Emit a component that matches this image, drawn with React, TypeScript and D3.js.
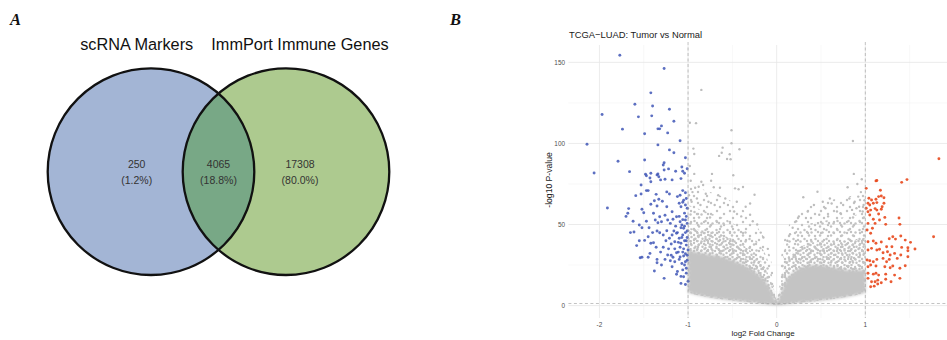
import React from 'react';
import * as d3 from 'd3';

// panel A: venn
const vennSets = ['scRNA Markers', 'ImmPort Immune Genes'];
const vennCounts = [250, 4065, 17308];
const vennPercents = ['1.2%', '18.8%', '80.0%'];

// panel B: volcano
const volcanoTitle = 'TCGA\u2212LUAD: Tumor vs Normal';
const xTicks = [-2, -1, 0, 1];
const xMinor = [-1.5, -0.5, 0.5, 1.5];
const yTicks = [0, 50, 100, 150];
const yMinor = [25, 75, 125];
const fcCutoff = 1;
const pCutoff = 1.3; // -log10(0.05)

// the non-significant gene cloud, read as bands: x, bottom, then tops from densest to sparsest
const cloudX = [-1.0, -0.9, -0.8, -0.7, -0.6, -0.5, -0.4, -0.3, -0.2, -0.1, -0.05, 0, 0.05, 0.1, 0.2, 0.3, 0.4, 0.5, 0.6, 0.7, 0.8, 0.9, 1.0];
const cloudLow = [8, 6.5, 5.5, 4.5, 3.8, 3.2, 2.6, 2, 1.4, 0.8, 0.5, 0.3, 0.5, 0.8, 1.4, 2, 2.6, 3.2, 3.8, 4.5, 5.5, 6.5, 8];
const cloudCore = [34, 33, 32, 31, 30, 28, 26, 23, 19, 13, 8, 2.5, 8, 15, 21, 24, 25, 25, 24, 23, 22, 22, 22];
const cloudInner = [48, 47, 46, 45, 43, 41, 38, 34, 29, 20, 13, 3.5, 15, 27, 34, 37, 39, 39, 39, 39, 40, 41, 42];
const cloudHalo = [62, 60, 58, 56, 54, 51, 48, 44, 38, 28, 18, 4, 22, 37, 45, 49, 51, 52, 53, 54, 55, 56, 58];
const cloudOuter = [75, 73, 71, 69, 67, 64, 60, 55, 47, 36, 24, 5, 30, 44, 54, 59, 62, 63, 65, 66, 67, 69, 72];

const grayGenes: [number, number][] = [
  [-0.85, 133], [-0.98, 112.8], [-0.91, 112.5], [-0.51, 108.1], [0.86, 101.5], [-0.51, 100.1], [-0.94, 96.8], [-0.93, 93.5],
  [-0.61, 97.4], [-0.62, 94.3], [-0.65, 92.3], [-0.53, 93.3], [-0.56, 90.4], [-0.52, 90.2], [-0.42, 96.4], [-0.98, 86.1],
  [-0.49, 80.4], [-0.73, 81.2], [-0.93, 81.2], [0.87, 81.2], [-0.97, 77], [-0.85, 76.4], [-0.74, 77], [-0.83, 74.4],
  [0.91, 75], [0.96, 77.9], [0.8, 73], [0.46, 70.2], [-0.47, 72.3], [-0.43, 71.7], [-0.38, 73.1], [-0.92, 72.7],
  [-0.88, 73.3], [-0.71, 73], [-0.64, 72.7], [-0.25, 68.4], [0.3, 66.8], [0.92, 67.2], [-0.95, 70], [-0.8, 69],
  [-0.66, 68], [-0.58, 66], [-0.45, 64], [-0.35, 61], [-0.3, 56], [-0.22, 50], [-0.15, 42], [-0.1, 35],
  [0.12, 40], [0.18, 48], [0.25, 55], [0.35, 58], [0.42, 62], [0.55, 60], [0.62, 63], [0.68, 58],
  [0.75, 62], [0.82, 66], [0.88, 64], [0.95, 70], [0.98, 62], [-0.99, 68], [-0.9, 66], [-0.77, 64],
  [-0.7, 62], [-0.55, 62], [-0.48, 58], [-0.4, 55], [-0.27, 52], [0.15, 44], [0.22, 52], [0.33, 54],
  [0.48, 56], [0.58, 55], [0.72, 57], [0.85, 59], [0.93, 61], [0.99, 65], [-0.3, 63], [-0.18, 45],
  [0.6, 66], [0.52, 64], [-0.96, 64], [-0.86, 62], [0.97, 58], [0.9, 60],
];

const downGenes: [number, number][] = [
  [-1.77, 154.4], [-1.27, 146.2], [-1.42, 131.2], [-1.6, 124.2], [-1.4, 123.1], [-1.21, 121.1], [-1.97, 117.8], [-1.56, 116.4],
  [-1.41, 117], [-1.16, 113.7], [-1.3, 110.8], [-1.32, 109], [-1.34, 109], [-1.74, 108.8], [-1.49, 106], [-1.23, 106.5],
  [-1.09, 101.7], [-2.14, 99.5], [-1.34, 99.1], [-1.21, 96], [-1.16, 94.3], [-1.03, 91.2], [-1.79, 89], [-1.49, 89.8],
  [-1.27, 88.1], [-1.28, 86.7], [-1.07, 85.5], [-1.01, 84.4], [-2.06, 81.8], [-1.66, 82.6], [-1.42, 81.6], [-1.34, 81.2],
  [-1.27, 83.6], [-1.22, 84.3], [-1.14, 82.8], [-1.06, 82.8], [-1.48, 81], [-1.47, 80.1], [-1.43, 78.7], [-1.35, 80.6],
  [-1.33, 79.5], [-1.31, 77.5], [-1.42, 76.4], [-1.26, 77.9], [-1.18, 77.5], [-1.08, 78.3], [-1.04, 81.6], [-1.53, 74.4],
  [-1.47, 70.9], [-1.45, 70.9], [-1.59, 67.8], [-1.53, 68.8], [-1.36, 68.6], [-1.24, 70.1], [-1.21, 68.8], [-1.33, 65.6],
  [-1.29, 64.3], [-1.42, 62.5], [-1.38, 64.7], [-1.12, 67.2], [-1.09, 68], [-1.06, 70.9], [-1.03, 69.6], [-1.1, 63.1],
  [-1.08, 61], [-1.06, 63.7], [-1.91, 60.2], [-1.67, 59.8], [-1.68, 56.9], [-1.52, 59.4], [-1.5, 57.3], [-1.35, 61.4],
  [-1.24, 61], [-1.18, 57.9], [-1.39, 56.9], [-1.32, 54.8], [-1.26, 55.7], [-1.23, 52.8], [-1.37, 52.8], [-1.34, 51.1],
  [-1.3, 51.7], [-1.2, 50.7], [-1.17, 53.2], [-1.13, 54.8], [-1.09, 51.7], [-1.07, 49.7], [-1.05, 47.7], [-1.03, 52.8],
  [-1.01, 50.7], [-1.61, 45.4], [-1.55, 49.7], [-1.52, 48], [-1.49, 40.2], [-1.45, 42.5], [-1.42, 38.4], [-1.39, 38.8],
  [-1.35, 46], [-1.32, 44.9], [-1.28, 43.5], [-1.24, 46.2], [-1.21, 41.5], [-1.18, 43.5], [-1.15, 39.4], [-1.13, 44.6],
  [-1.1, 41.5], [-1.08, 38.4], [-1.06, 43.5], [-1.04, 40], [-1.02, 37.3], [-1.54, 29.5], [-1.52, 29.8], [-1.45, 29.8],
  [-1.43, 32.2], [-1.35, 28.5], [-1.35, 26.4], [-1.26, 28.5], [-1.23, 31.2], [-1.2, 27.7], [-1.17, 29.8], [-1.15, 27],
  [-1.13, 32.6], [-1.1, 28.5], [-1.07, 26], [-1.05, 30.6], [-1.02, 23], [-1, 34.3], [-1.38, 21.3], [-1.27, 16.8],
  [-1.13, 19.3], [-1.05, 17.8], [-1.08, 13.7], [-1.02, 55], [-1.04, 57], [-1.01, 60], [-1.03, 62], [-1.05, 65],
  [-1.02, 66], [-1.06, 53], [-1.08, 48], [-1.03, 45], [-1.01, 42], [-1.05, 35], [-1.03, 32], [-1.01, 28],
  [-1.04, 25], [-1.02, 20], [-1.06, 22], [-1.09, 30], [-1.11, 33], [-1.12, 45], [-1.14, 49], [-1.1, 55],
  [-1.16, 46], [-1.19, 38], [-1.22, 35], [-1.25, 40], [-1.28, 36], [-1.31, 33], [-1.36, 36], [-1.4, 45],
  [-1.44, 48], [-1.47, 52], [-1.55, 40], [-1.58, 37], [-1.62, 52], [-1.65, 45], [-1.7, 55], [-1.3, 25],
  [-1.18, 24], [-1.12, 21], [-1.08, 18], [-1.0, 15], [-1.03, 13], [-1.01, 46], [-1.04, 49], [-1.02, 40],
  [-1.07, 42], [-1.09, 36], [-1.01, 31], [-1.03, 27], [-1.06, 33], [-1.11, 39], [-1.15, 35], [-1.19, 31],
];

const upGenes: [number, number][] = [
  [1.83, 90.6], [1.12, 76.9], [1.13, 77.1], [1.41, 76], [1.47, 77.7], [1.01, 72.3], [1.17, 71.1], [1.04, 66.2],
  [1.07, 65.1], [1.12, 65.6], [1.15, 67.2], [1.18, 67.6], [1.21, 66.5], [1.03, 63.1], [1.05, 62], [1.09, 63.1],
  [1.13, 63.5], [1.21, 63.1], [1.01, 60], [1.03, 57.9], [1.06, 58.9], [1.11, 59.8], [1.13, 58.9], [1.18, 59.4],
  [1.19, 61], [1.05, 55.9], [1.09, 53.2], [1.15, 56.5], [1.16, 52.8], [1.22, 54.4], [1.38, 54], [1.39, 50.1],
  [1.03, 50.7], [1.08, 47.7], [1.11, 50.7], [1.23, 50.1], [1.02, 46.6], [1.06, 44.6], [1.77, 42.5], [1.27, 41.2],
  [1.31, 42.5], [1.34, 41], [1.4, 42.9], [1.45, 40.4], [1.03, 39.4], [1.09, 39.8], [1.12, 38.4], [1.18, 39.2],
  [1.24, 36.3], [1.3, 36.3], [1.41, 35.9], [1.48, 35.7], [1.51, 39], [1.56, 34.9], [1.03, 34.3], [1.07, 35.3],
  [1.13, 34.3], [1.16, 34.7], [1.2, 32.6], [1.25, 33.2], [1.28, 31.2], [1.33, 32.2], [1.36, 29.1], [1.4, 31.2],
  [1.48, 30.1], [1.48, 33.8], [1.02, 28.1], [1.05, 27.7], [1.09, 27], [1.13, 28.5], [1.2, 29.1], [1.24, 27],
  [1.27, 28.5], [1.03, 24], [1.06, 25], [1.12, 24.4], [1.22, 24], [1.28, 23.3], [1.31, 24.4], [1.39, 23],
  [1.45, 24.6], [1.03, 19.9], [1.09, 19.4], [1.12, 19.9], [1.15, 18.8], [1.23, 19.4], [1.33, 18.8], [1.39, 16.8],
  [1.07, 14.7], [1.11, 14.7], [1.14, 15.7], [1.23, 16.2], [1.29, 14.7], [1.06, 11.6], [1.1, 12], [1.14, 13.3],
  [1.18, 14.1], [1.03, 16.8],
];

const sans = '"Liberation Sans", Arial, Helvetica, sans-serif';

const App: React.FC = () => {
  const svgRef = React.useRef<SVGSVGElement>(null);

  React.useEffect(() => {
    if (!svgRef.current) return;
    const svg = d3.select(svgRef.current);
    svg.selectAll('*').remove();
    const defs = svg.append('defs');

    // ---------- panel letters
    svg.selectAll('text.panel')
      .data(['A', 'B'])
      .enter()
      .append('text')
      .attr('x', (d, i) => (i === 0 ? 10 : 450))
      .attr('y', 25)
      .attr('font-family', '"Liberation Serif", "Times New Roman", serif')
      .attr('font-style', 'italic')
      .attr('font-weight', 'bold')
      .attr('font-size', 16.5)
      .attr('fill', '#111')
      .text(d => d);

    // ---------- venn
    const r = 103.3;
    const cy = 171.7;
    const cxs = [151, 286];
    const fills = ['#a3b5d5', '#adca8f'];

    defs.append('clipPath').attr('id', 'leftSet')
      .append('circle').attr('cx', cxs[0]).attr('cy', cy).attr('r', r);

    const venn = svg.append('g');
    venn.selectAll('circle.set')
      .data(cxs)
      .enter()
      .append('circle')
      .attr('cx', d => d)
      .attr('cy', cy)
      .attr('r', r)
      .attr('fill', (d, i) => fills[i]);

    venn.append('circle')
      .attr('cx', cxs[1]).attr('cy', cy).attr('r', r)
      .attr('clip-path', 'url(#leftSet)')
      .attr('fill', '#78a886');

    venn.selectAll('circle.edge')
      .data(cxs)
      .enter()
      .append('circle')
      .attr('cx', d => d)
      .attr('cy', cy)
      .attr('r', r)
      .attr('fill', 'none')
      .attr('stroke', '#111')
      .attr('stroke-width', 2.3);

    const titleX = [136.7, 300];
    venn.selectAll('text.setname')
      .data(vennSets)
      .enter()
      .append('text')
      .attr('x', (d, i) => titleX[i])
      .attr('y', 50)
      .attr('text-anchor', 'middle')
      .attr('font-family', sans)
      .attr('font-size', 16.3)
      .attr('fill', '#111')
      .text(d => d);

    const regionX = [136.7, 218.5, 300];
    venn.selectAll('text.count')
      .data(vennCounts)
      .enter()
      .append('text')
      .attr('x', (d, i) => regionX[i])
      .attr('y', 168)
      .attr('text-anchor', 'middle')
      .attr('font-family', sans)
      .attr('font-size', 10.5)
      .attr('fill', '#333')
      .text(d => String(d));

    venn.selectAll('text.pct')
      .data(vennPercents)
      .enter()
      .append('text')
      .attr('x', (d, i) => regionX[i])
      .attr('y', 184)
      .attr('text-anchor', 'middle')
      .attr('font-family', sans)
      .attr('font-size', 10.5)
      .attr('fill', '#333')
      .text(d => `(${d})`);

    // ---------- volcano
    const x = d3.scaleLinear().domain([-2.35, 2.05]).range([568.4, 958.4]);
    const y = d3.scaleLinear().domain([-7.65, 160.7]).range([318, 45]);
    const [px0, px1] = [568.4, 947];
    const [py0, py1] = [45, 318];

    const plot = svg.append('g');

    // grid
    plot.selectAll('line.hminor').data(yMinor).enter().append('line')
      .attr('x1', px0).attr('x2', px1).attr('y1', d => y(d)).attr('y2', d => y(d))
      .attr('stroke', '#f0f0f0').attr('stroke-width', 0.5);
    plot.selectAll('line.vminor').data(xMinor).enter().append('line')
      .attr('y1', py0).attr('y2', py1).attr('x1', d => x(d)).attr('x2', d => x(d))
      .attr('stroke', '#f0f0f0').attr('stroke-width', 0.5);
    plot.selectAll('line.hmajor').data(yTicks).enter().append('line')
      .attr('x1', px0).attr('x2', px1).attr('y1', d => y(d)).attr('y2', d => y(d))
      .attr('stroke', '#e6e6e6').attr('stroke-width', 0.8);
    plot.selectAll('line.vmajor').data(xTicks).enter().append('line')
      .attr('y1', py0).attr('y2', py1).attr('x1', d => x(d)).attr('x2', d => x(d))
      .attr('stroke', '#e6e6e6').attr('stroke-width', 0.8);

    // speckle patterns for the crowded grey cloud (stacked, so density rises toward the core)
    const speckle = (id: string, w: number, h: number, dots: number[][]) => {
      const p = defs.append('pattern').attr('id', id)
        .attr('patternUnits', 'userSpaceOnUse').attr('width', w).attr('height', h);
      dots.forEach(([a, b]) =>
        p.append('circle').attr('cx', a).attr('cy', b).attr('r', 1.25).attr('fill', '#c3c3c3'));
    };
    speckle('spA', 13, 11, [[2, 2], [9, 5], [5, 9]]);
    speckle('spB', 11, 9, [[6, 1.5], [1.5, 5], [8.5, 7.5], [4, 7]]);
    speckle('spC', 7, 8, [[1, 3], [4.5, 1], [5.5, 5], [2.5, 6.8]]);

    defs.append('filter').attr('id', 'soft')
      .attr('x', '-5%').attr('y', '-10%').attr('width', '110%').attr('height', '120%')
      .append('feGaussianBlur').attr('stdDeviation', 1.6);

    const cloud = cloudX.map((cx, i) => ({
      x: cx, low: cloudLow[i], core: cloudCore[i], inner: cloudInner[i], halo: cloudHalo[i], outer: cloudOuter[i],
    }));
    const band = (key: 'core' | 'inner' | 'halo' | 'outer') => d3.area<typeof cloud[number]>()
      .x(d => x(d.x))
      .y0(d => y(d.low))
      .y1(d => y(d[key]))
      .curve(d3.curveMonotoneX);

    plot.append('path').datum(cloud).attr('d', band('outer')).attr('fill', 'url(#spA)');
    plot.append('path').datum(cloud).attr('d', band('halo')).attr('fill', 'url(#spB)');
    plot.append('path').datum(cloud).attr('d', band('inner')).attr('fill', 'url(#spC)');
    plot.append('path').datum(cloud).attr('d', band('core')).attr('fill', '#c4c4c4')
      .attr('filter', 'url(#soft)');

    plot.selectAll('circle.ns').data(grayGenes).enter().append('circle')
      .attr('cx', d => x(d[0])).attr('cy', d => y(d[1])).attr('r', 1.2)
      .attr('fill', '#bdbdbd');

    plot.selectAll('circle.down').data(downGenes).enter().append('circle')
      .attr('cx', d => x(d[0])).attr('cy', d => y(d[1])).attr('r', 1.45)
      .attr('fill', '#3f56b6').attr('fill-opacity', 0.85);

    plot.selectAll('circle.up').data(upGenes).enter().append('circle')
      .attr('cx', d => x(d[0])).attr('cy', d => y(d[1])).attr('r', 1.45)
      .attr('fill', '#e8481c').attr('fill-opacity', 0.9);

    // cutoffs
    plot.selectAll('line.vcut').data([-fcCutoff, fcCutoff]).enter().append('line')
      .attr('x1', d => x(d)).attr('x2', d => x(d)).attr('y1', py0 - 3).attr('y2', py1)
      .attr('stroke', '#9a9a9a').attr('stroke-width', 0.6).attr('stroke-dasharray', '3,2.5');
    plot.append('line')
      .attr('x1', px0).attr('x2', px1).attr('y1', y(pCutoff)).attr('y2', y(pCutoff))
      .attr('stroke', '#9a9a9a').attr('stroke-width', 0.6).attr('stroke-dasharray', '3,2.5');

    // tick labels
    plot.selectAll('text.ytick').data(yTicks).enter().append('text')
      .attr('x', 565).attr('y', d => y(d)).attr('dy', '0.35em')
      .attr('text-anchor', 'end').attr('font-family', sans).attr('font-size', 6.4)
      .attr('fill', '#4d4d4d').text(d => String(d));
    plot.selectAll('text.xtick').data(xTicks).enter().append('text')
      .attr('x', d => x(d)).attr('y', 326.5)
      .attr('text-anchor', 'middle').attr('font-family', sans).attr('font-size', 6.4)
      .attr('fill', '#4d4d4d').text(d => String(d));

    plot.append('text')
      .attr('x', 569).attr('y', 38)
      .attr('font-family', sans).attr('font-size', 9.4).attr('fill', '#1a1a1a')
      .text(volcanoTitle);
    plot.append('text')
      .attr('x', 763).attr('y', 336)
      .attr('text-anchor', 'middle').attr('font-family', sans).attr('font-size', 8)
      .attr('fill', '#1a1a1a').text('log2 Fold Change');
    plot.append('text')
      .attr('transform', 'translate(552,180) rotate(-90)')
      .attr('text-anchor', 'middle').attr('font-family', sans).attr('font-size', 8.6)
      .attr('fill', '#1a1a1a').text('-log10 P-value');
  }, []);

  return (
    <svg
      ref={svgRef}
      width={947}
      height={340}
      style={{ position: 'absolute', left: 0, top: 0, background: '#fff' }}
    />
  );
};

export default App;
